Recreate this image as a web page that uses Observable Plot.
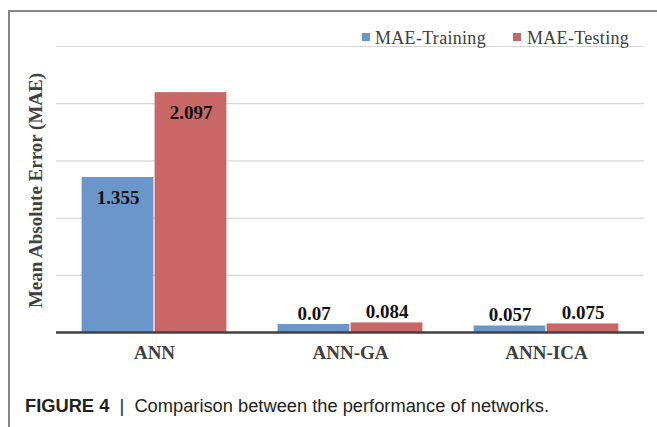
<!DOCTYPE html>
<html>
<head>
<meta charset="utf-8">
<script src="https://cdn.jsdelivr.net/npm/d3@7"></script>
<script src="https://cdn.jsdelivr.net/npm/@observablehq/plot@0.6"></script>
<style>
  html, body { margin: 0; padding: 0; background: #fff; }
  .fl { position: absolute; background: #858585; z-index: 5; }
  #chart { position: absolute; left: 0; top: 0; }
  .lg { position: absolute; font-family: "Liberation Serif", "Times New Roman", serif;
        font-size: 18px; color: #404040; letter-spacing: 0.3px; line-height: 1; white-space: nowrap; }
  .sw { position: absolute; width: 8px; height: 8px; }
  #caption { position: absolute; left: 25px; top: 395px; font-family: "Liberation Sans", Arial, sans-serif;
             font-size: 18.3px; color: #231f20; white-space: nowrap; }
</style>
</head>
<body>
<div id="chart"></div>
<div class="sw" style="left:362px; top:33px; background:#6b96c9;"></div>
<div class="lg" style="left:375px; top:29px;">MAE-Training</div>
<div class="sw" style="left:513px; top:33px; background:#c96666;"></div>
<div class="lg" style="left:527px; top:29px;">MAE-Testing</div>
<div id="caption"><b>FIGURE 4</b> &nbsp;|&nbsp; Comparison between the performance of networks.</div>
<div class="fl" style="left:8px; top:10px; width:2px; height:417px;"></div>
<div class="fl" style="left:8px; top:10px; width:649px; height:2px;"></div>
<script>
const categories = ["ANN", "ANN-GA", "ANN-ICA"];
const series = ["MAE-Training", "MAE-Testing"];
const training = [1.355, 0.07, 0.057];
const testing = [2.097, 0.084, 0.075];
const yTicks = [0.5, 1, 1.5, 2, 2.5];
const colors = ["#6b96c9", "#c96666"];
const yTitle = "Mean Absolute Error (MAE)";

const data = categories.flatMap((c, i) => [
  {cat: c, s: series[0], v: training[i]},
  {cat: c, s: series[1], v: testing[i]}
]);

const serif = "'Liberation Serif', 'Times New Roman', serif";

const chart = Plot.plot({
  width: 657,
  height: 380,
  marginLeft: 55,
  marginRight: 13,
  marginTop: 46,
  marginBottom: 48,
  style: {background: "transparent", fontFamily: serif},
  fx: {domain: categories, paddingInner: 0, paddingOuter: 0, axis: null, label: null},
  x: {domain: series, paddingInner: 0, paddingOuter: 0.332, axis: null},
  y: {domain: [0, 2.5], axis: null},
  color: {domain: series, range: colors},
  marks: [
    Plot.ruleY(yTicks, {stroke: "#d6d6d6", strokeWidth: 1.2}),
    Plot.barY(data, {fx: "cat", x: "s", y: "v", fill: "s", insetLeft: 0.6, insetRight: 0.6}),
    Plot.ruleY([0], {stroke: "#404040", strokeWidth: 2.5}),
    Plot.text(data.filter(d => d.v >= 0.5), {fx: "cat", x: "s", y: "v", text: d => String(d.v),
      dy: 20, fontSize: 19, fontWeight: "bold", fill: "#111", fontFamily: serif}),
    Plot.text(data.filter(d => d.v < 0.5), {fx: "cat", x: "s", y: "v", text: d => String(d.v),
      dy: -11, fontSize: 19, fontWeight: "bold", fill: "#111", fontFamily: serif}),
    Plot.text(categories, {fx: d => d, frameAnchor: "bottom", dy: 26, text: d => d,
      fontSize: 19, fontWeight: "bold", fill: "#404040", fontFamily: serif}),
    Plot.text([{cat: categories[0]}], {fx: "cat", frameAnchor: "left", dx: -21, dy: 1, rotate: -90,
      textAnchor: "middle", lineAnchor: "middle",
      text: () => yTitle, fontSize: 19, fontWeight: "bold", fill: "#404040", fontFamily: serif})
  ]
});
document.getElementById("chart").appendChild(chart);
</script>
</body>
</html>
